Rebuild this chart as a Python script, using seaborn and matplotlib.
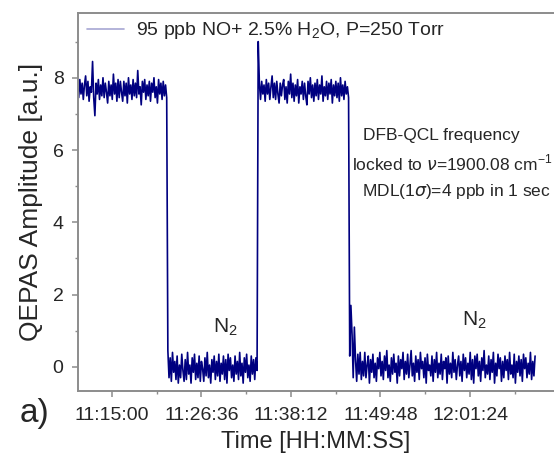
import numpy as np
import pandas as pd
import matplotlib
matplotlib.use('Agg')
import matplotlib.pyplot as plt
from matplotlib.ticker import FuncFormatter, MultipleLocator
import seaborn as sns

# Time series: one sample every 9 s starting at 11:10:34
t_start = 11 * 3600 + 10 * 60 + 34
dt = 9

# QEPAS signal [a.u.] (NO on / N2 purge / NO on / N2 purge)
no_on_1 = [7.70, 7.45, 7.95, 7.55, 7.85, 7.40, 7.80, 8.05, 7.50, 7.90,
           7.35, 7.75, 7.60, 8.45, 7.45, 6.95, 7.85, 7.55, 7.95, 7.40,
           7.80, 7.50, 8.00, 7.45, 7.85, 7.60, 7.30, 7.90, 7.50, 7.80,
           7.40, 8.10, 7.55, 7.85, 7.35, 7.95, 7.45, 7.90, 7.60, 7.35,
           7.90, 7.50, 7.85, 7.30, 8.00, 7.55, 7.80, 7.40, 7.95, 7.50,
           7.85, 7.45, 8.20, 7.55, 7.75, 7.25, 7.90, 7.60, 7.95, 7.40,
           7.80, 7.50, 7.90, 7.35, 7.85, 7.60, 8.00, 7.45, 7.75, 7.30,
           7.95, 7.55, 7.85, 7.40, 7.90, 7.50, 7.80, 7.45]
n2_1 = [0.45, -0.30, 0.25, -0.40, 0.40, -0.15, 0.15, -0.35, 0.30, -0.45,
        0.05, -0.30, 0.35, -0.10, -0.40, 0.20, -0.35, 0.40, -0.20, 0.05,
        -0.45, 0.25, -0.15, 0.35, -0.35, 0.10, -0.30, 0.30, -0.40, 0.15,
        -0.05, -0.40, 0.25, -0.25, 0.40, -0.30, 0.05, -0.45, 0.20, -0.15,
        0.30, -0.35, 0.15, -0.25, 0.35, -0.40, 0.10, -0.20, 0.30, -0.35,
        0.20, -0.45, 0.35, -0.10, 0.25, -0.30, 0.05, -0.40, 0.30, -0.20,
        0.15, -0.35, 0.40, -0.25, 0.10, -0.45, 0.25, -0.15, 0.35, -0.30,
        0.05, -0.40, 0.30, -0.20, 0.20, -0.35, 0.25, -0.10]
no_on_2 = [9.00, 7.85, 7.40, 7.90, 7.55, 7.80, 7.35, 7.95, 7.55, 7.85,
           7.40, 7.75, 8.05, 7.45, 7.85, 7.40, 7.90, 7.55, 7.30, 7.85,
           7.50, 7.80, 7.95, 7.40, 7.75, 7.30, 7.90, 7.55, 8.10, 7.45,
           7.85, 7.35, 7.80, 7.50, 7.95, 7.30, 7.75, 7.55, 7.90, 7.40,
           7.85, 7.50, 7.25, 7.90, 7.55, 8.00, 7.45, 7.80, 7.35, 7.85,
           7.50, 7.95, 7.40, 7.80, 7.55, 8.05, 7.35, 7.75, 7.50, 7.90,
           7.40, 7.85, 7.55, 7.95, 7.30, 7.80, 7.50, 7.90, 7.45, 7.85,
           7.35, 8.00, 7.50, 7.80, 7.40, 7.90, 7.55, 7.75, 7.45]
n2_2 = [0.30, 1.70, 0.90, -0.30, 1.10, 0.20, -0.40, 0.35, -0.20, 0.40,
        -0.35, 0.15, -0.25, 0.40, -0.30, 0.05, 0.30, -0.45, 0.20, -0.15,
        0.35, -0.30, 0.10, -0.40, 0.25, -0.05, 0.40, -0.25, 0.15, -0.35,
        0.30, -0.10, 0.45, -0.30, 0.05, -0.40, 0.25, -0.20, 0.35, -0.15,
        0.10, -0.45, 0.30, -0.25, 0.20, -0.05, 0.40, -0.35, 0.15, -0.20,
        0.35, -0.30, 0.05, 0.45, -0.25, 0.10, -0.40, 0.30, -0.15, 0.20,
        -0.35, 0.40, -0.05, 0.15, -0.30, 0.25, -0.45, 0.35, -0.10, 0.05,
        -0.25, 0.30, -0.40, 0.20, -0.15, 0.40, -0.30, 0.10, -0.20, 0.35,
        -0.35, 0.15, -0.05, 0.25, -0.45, 0.30, -0.20, 0.10, -0.30, 0.40,
        -0.15, 0.20, -0.35, 0.05, 0.30, -0.25, 0.15, -0.40, 0.35, -0.10,
        0.25, -0.30, 0.10, -0.20, 0.40, -0.35, 0.20, -0.45, 0.30, -0.05,
        0.35, -0.25, 0.15, -0.40, 0.25, -0.10, 0.45, -0.30, 0.05, -0.20,
        0.30, -0.35, 0.20, -0.15, 0.40, -0.45, 0.10, -0.25, 0.35, -0.05,
        0.25, -0.40, 0.15, -0.30, 0.30, -0.10, 0.20, -0.35, 0.40, -0.20,
        0.05, -0.30, 0.35, -0.45, 0.15, -0.15, 0.30, -0.25, 0.20, -0.40,
        0.35, -0.05, 0.25, -0.30, 0.10, -0.20, 0.40, -0.35, 0.15, -0.25,
        0.30]

tick_start = 11 * 3600 + 15 * 60   # 11:15:00
tick_step = 696                    # 11 min 36 s

amp = no_on_1 + n2_1 + no_on_2 + n2_2
df = pd.DataFrame({'t': t_start + dt * np.arange(len(amp)), 'amp': amp})

sns.set_theme(style='ticks')
plt.rcParams['font.family'] = ['Liberation Sans', 'DejaVu Sans']
plt.rcParams['mathtext.fontset'] = 'custom'
plt.rcParams['mathtext.rm'] = 'Liberation Sans'

fig = plt.figure(figsize=(5.54, 4.55), dpi=100)
ax = fig.add_axes([0.1399, 0.1413, 0.8601, 0.8308])

sns.lineplot(data=df, x='t', y='amp', color='#000080', lw=1.2, ax=ax,
             label='95 ppb NO+ 2.5% H$_2$O, P=250 Torr')

ax.set_xlim(40234, 43936)
ax.set_ylim(-0.66, 9.8)
ax.xaxis.set_major_locator(MultipleLocator(tick_step, offset=tick_start % tick_step))
ax.xaxis.set_minor_locator(MultipleLocator(tick_step / 2, offset=tick_start % (tick_step / 2)))
ax.xaxis.set_major_formatter(FuncFormatter(
    lambda s, _: '%02d:%02d:%02d' % (s // 3600, (s % 3600) // 60, s % 60)))
ax.yaxis.set_major_locator(MultipleLocator(2))
ax.yaxis.set_minor_locator(MultipleLocator(1))

for side in ['left', 'bottom', 'top']:
    ax.spines[side].set_color('#8c8c8c')
    ax.spines[side].set_linewidth(1.4)
ax.spines['right'].set_visible(False)
ax.tick_params(which='major', direction='out', length=4, width=1.1, color='#8c8c8c',
               labelsize=14, labelcolor='#262626', pad=6)
ax.tick_params(axis='x', which='major', pad=8)
ax.tick_params(which='minor', direction='out', length=2.5, width=1.0, color='#8c8c8c')
ax.tick_params(axis='x', which='both', top=False)

ax.set_xlabel('Time [HH:MM:SS]', fontsize=17, color='#262626', labelpad=5)
ax.set_ylabel('QEPAS Amplitude [a.u.]', fontsize=19, color='#262626', labelpad=7)

leg = ax.legend(loc='center left', bbox_to_anchor=(0.02, 0.952), frameon=False,
                fontsize=14, handlelength=1.9, handletextpad=0.6,
                borderpad=0, borderaxespad=0)
leg.get_lines()[0].set_alpha(0.35)
leg.get_lines()[0].set_linewidth(1.2)
for txt in leg.get_texts():
    txt.set_color('#262626')

ax.text(0.599, 0.676, 'DFB-QCL frequency', transform=ax.transAxes,
        fontsize=12.5, color='#262626', va='center')
ax.text(0.576, 0.602, r'locked to $\nu$=1900.08 cm$^{-1}$', transform=ax.transAxes,
        fontsize=12.5, color='#262626', va='center')
ax.text(0.597, 0.526, r'MDL(1$\sigma$)=4 ppb in 1 sec', transform=ax.transAxes,
        fontsize=12.5, color='#262626', va='center')
ax.text(0.284, 0.153, 'N$_2$', transform=ax.transAxes, fontsize=15,
        color='#262626', va='baseline')
ax.text(0.807, 0.174, 'N$_2$', transform=ax.transAxes, fontsize=15,
        color='#262626', va='baseline')

fig.text(0.063, 0.092, 'a)', fontsize=24, color='#262626', ha='center', va='center')

fig.savefig('out.png', dpi=100)
